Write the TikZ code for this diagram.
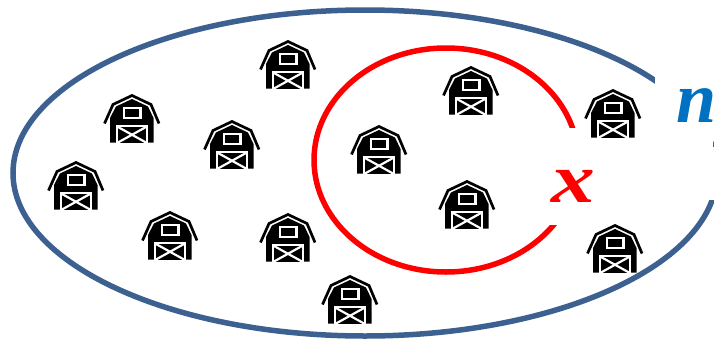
\documentclass[tikz,border=0pt]{standalone}
\usepackage{fontspec}
\setmainfont{Liberation Serif}
\definecolor{ringblue}{HTML}{3C6090}
\definecolor{nblue}{HTML}{0070C0}
\tikzset{
  x=1pt,y=-1pt,
  ring/.style={draw=ringblue,line width=5.5pt},
  inner ring/.style={draw=red,line width=5.5pt},
  mask/.style={fill=white,draw=none},
  pics/barn/.style={code={
    \draw[black,line width=2.7pt,line join=miter] (-27.5,4.5)--(-19,-14.5)--(0,-23.5)--(19,-14.5)--(27,4.5);
    \fill[black] (-22,23.5)--(-22,-1)--(-16,-12.5)--(0,-20)--(16,-12.5)--(21.5,-1)--(21.5,23.5)--cycle;
    \fill[white] (-9,-12.5) rectangle (9.5,0);
    \fill[black] (-6.7,-10.2) rectangle (7.2,-2.3);
    \fill[white] (-16,6) rectangle (16,23.5);
    \fill[black] (-14,8) rectangle (14,23.5);
    \draw[white,line width=2.2pt] (-14,8)--(14,23.5) (14,8)--(-14,23.5);
  }}
}
\begin{document}
\begin{tikzpicture}
\useasboundingbox (0,0) rectangle (714,340);
\begin{scope}
\clip (0,0) rectangle (714,340);
\draw[ring] (365,173) ellipse [x radius=352,y radius=163];
\end{scope}
\fill[mask] (655,40) rectangle (712.5,147);
\fill[mask] (655,147) rectangle (715,200);
\draw[inner ring] (446,160) ellipse [x radius=132,y radius=112];
\fill[mask] (530,128) rectangle (600,225);
\foreach \bx/\by in {288/65,132/119,232/145,76/186,170/236,288/238,350/300,379/150,471/91,467/205,613/114,615/249}
  \pic at (\bx,\by) {barn};
\node[text=red,font=\bfseries\itshape\fontsize{70}{70}\selectfont,inner sep=0pt,anchor=base,xscale=1.25] (xlabel) at (573,202) {x};
\node[text=nblue,font=\bfseries\itshape\fontsize{72}{72}\selectfont,inner sep=0pt,anchor=base] (nlabel) at (697,122) {n};
\end{tikzpicture}
\end{document}
